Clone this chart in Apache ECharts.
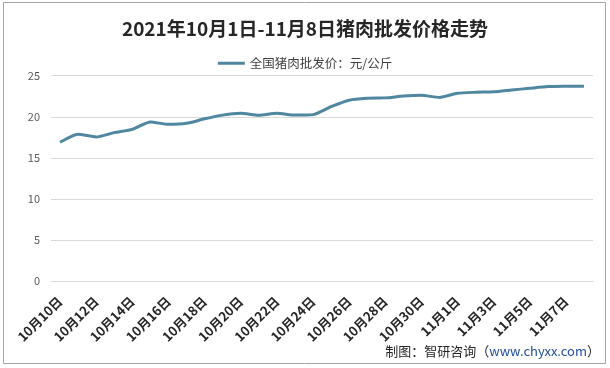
<!DOCTYPE html>
<html><head><meta charset="utf-8">
<script src="https://cdn.jsdelivr.net/npm/echarts@6/dist/echarts.min.js"></script>
<style>html,body{margin:0;padding:0;background:#fff}#c{width:610px;height:368px}</style>
</head><body><div id="c"></div>
<script>
const categories = ['10月10日','10月11日','10月12日','10月13日','10月14日','10月15日','10月16日','10月17日','10月18日','10月19日','10月20日','10月21日','10月22日','10月23日','10月24日','10月25日','10月26日','10月27日','10月28日','10月29日','10月30日','10月31日','11月1日','11月2日','11月3日','11月4日','11月5日','11月6日','11月7日','11月8日'];
const priceValues = [16.89,17.87,17.54,18.07,18.47,19.37,19.08,19.2,19.75,20.2,20.42,20.18,20.42,20.2,20.26,21.23,22.02,22.25,22.3,22.52,22.62,22.35,22.86,22.98,23.04,23.26,23.47,23.67,23.71,23.73];
const seriesName = '全国猪肉批发价：元/公斤';
const titleText = '2021年10月1日-11月8日猪肉批发价格走势';
const yTicks = {min:0, max:25, interval:5};

const chart = echarts.init(document.getElementById('c'));
chart.setOption({
  animation:false,
  backgroundColor:'#fff',
  title:{text:titleText,left:'center',top:14,textStyle:{fontFamily:'Noto Sans CJK SC',fontSize:19,fontWeight:'bold',color:'#262626'}},
  legend:{top:52,left:'center',itemWidth:27,itemHeight:3,icon:'rect',itemGap:2,
    textStyle:{fontFamily:'Noto Sans CJK SC',fontSize:12.5,color:'#404040'},data:[seriesName]},
  grid:{left:51,right:17,top:75.7,bottom:87},
  xAxis:{type:'category',data:categories,boundaryGap:true,
    axisLine:{lineStyle:{color:'#d9d9d9'}},axisTick:{show:false},
    axisLabel:{interval:1,rotate:45,fontFamily:'Noto Sans CJK SC',fontSize:13,fontWeight:'bold',color:'#262626',margin:18}},
  yAxis:{type:'value',min:yTicks.min,max:yTicks.max,interval:yTicks.interval,
    axisLine:{show:false},axisTick:{show:false},
    splitLine:{lineStyle:{color:'#d9d9d9'}},
    axisLabel:{fontFamily:'Noto Sans CJK SC',fontSize:11,color:'#595959',margin:11}},
  series:[{name:seriesName,type:'line',data:priceValues,smooth:0.2,symbol:'none',
    lineStyle:{color:'#4f87a0',width:3},itemStyle:{color:'#4f87a0'}}],
  graphic:[
    {type:'rect',shape:{x:3.5,y:2.5,width:602,height:361},style:{fill:null,stroke:'#a6a6a6',lineWidth:1},silent:true},
    {type:'text',right:10,top:345,style:{
      text:'{a|制图：智研咨询（}{b|www.chyxx.com}{a|）}',
      rich:{a:{fontFamily:'Noto Sans CJK SC',fontSize:13,fill:'#262626'},b:{fontFamily:'Noto Sans CJK SC',fontSize:13,fill:'#1f4e9f'}}}}
  ]
});
</script></body></html>
